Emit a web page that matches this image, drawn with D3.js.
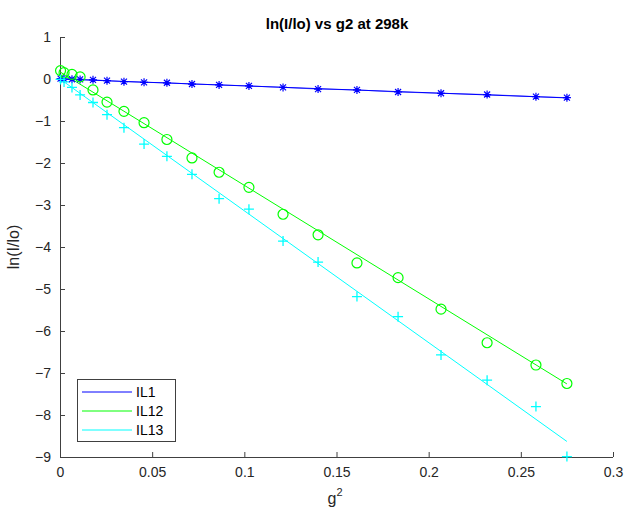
<!DOCTYPE html>
<html lang="en">
<head>
  <meta charset="utf-8">
  <title>ln(I/lo) vs g2 at 298k</title>
  <style>
    body { margin: 0; background: #fff; }
    svg { display: block; font-family: "Liberation Sans", Arial, sans-serif; }
  </style>
  <script src="https://d3js.org/d3.v7.min.js"></script>
</head>
<body>
  <div id="chart"></div>
  <script>
    // g^2 values (shared by all three series)
    const g2 = [0.0003, 0.0022, 0.0065, 0.0109, 0.0179, 0.0255, 0.0347, 0.0456, 0.0580, 0.0716,
                0.0863, 0.1025, 0.1210, 0.1400, 0.1611, 0.1834, 0.2067, 0.2317, 0.2582, 0.2750];

    // ln(I/Io) measured points
    const il1 = [0.01, 0.0, -0.005, -0.01, -0.02, -0.04, -0.064, -0.08, -0.09, -0.12,
                 -0.14, -0.165, -0.2, -0.24, -0.26, -0.31, -0.34, -0.37, -0.42, -0.445];
    const il12 = [0.2, 0.15, 0.11, 0.05, -0.26, -0.55, -0.77, -1.04, -1.44, -1.88,
                  -2.22, -2.58, -3.22, -3.71, -4.38, -4.73, -5.48, -6.28, -6.81, -7.25];
    const il13 = [-0.01, -0.07, -0.2, -0.38, -0.56, -0.85, -1.16, -1.55, -1.84, -2.27,
                  -2.85, -3.1, -3.86, -4.36, -5.18, -5.66, -6.57, -7.17, -7.8, -8.99];

    // fitted lines, [g2, ln] end points
    const fit1 = [[0, 0.0], [0.275, -0.45]];
    const fit12 = [[0, 0.17], [0.275, -7.26]];
    const fit13 = [[0, 0.0], [0.275, -8.63]];

    const names = ["IL1", "IL12", "IL13"];
    const colors = ["#0000ff", "#00ff00", "#00ffff"];
    const xTicks = [0, 0.05, 0.1, 0.15, 0.2, 0.25, 0.3];
    const yTicks = [1, 0, -1, -2, -3, -4, -5, -6, -7, -8, -9];

    const width = 625, height = 512;
    const mLeft = 60, mRight = 613, mTop = 37, mBottom = 457;
    const axisColor = "#404040";

    const svg = d3.select("#chart").append("svg")
      .attr("width", width)
      .attr("height", height);

    const x = d3.scaleLinear().domain([0, 0.3]).range([mLeft, mRight]);
    const y = d3.scaleLinear().domain([-9, 1]).range([mBottom, mTop]);

    // axes (box off, ticks inward)
    const xAxis = svg.append("g")
      .attr("transform", "translate(0," + mBottom + ")")
      .call(d3.axisBottom(x).tickValues(xTicks).tickSize(-5).tickPadding(10)
        .tickFormat(d3.format("~g")));
    const yAxis = svg.append("g")
      .attr("transform", "translate(" + mLeft + ",0)")
      .call(d3.axisLeft(y).tickValues(yTicks).tickSize(-5).tickPadding(9)
        .tickFormat(d3.format("d")));

    [xAxis, yAxis].forEach(function (a) {
      a.select(".domain").attr("stroke", axisColor);
      a.selectAll(".tick line").attr("stroke", axisColor);
      a.selectAll(".tick text").attr("fill", "#262626").attr("font-size", 14)
        .attr("font-family", "Liberation Sans, Arial, sans-serif");
    });
    // plain axis lines without end caps
    xAxis.select(".domain").attr("d", "M" + mLeft + ",0.5H" + mRight);
    yAxis.select(".domain").attr("d", "M0.5," + mBottom + "V" + mTop);

    const line = d3.line().x(d => x(d[0])).y(d => y(d[1]));

    // fit lines
    [fit1, fit12, fit13].forEach(function (f, i) {
      svg.append("path")
        .attr("d", line(f))
        .attr("fill", "none")
        .attr("stroke", colors[i])
        .attr("stroke-width", 1);
    });

    // IL1 also drawn through its points
    svg.append("path")
      .attr("d", line(g2.map((v, i) => [v, il1[i]])))
      .attr("fill", "none")
      .attr("stroke", colors[0])
      .attr("stroke-opacity", 0.6)
      .attr("stroke-width", 1);

    // IL1 markers: asterisks
    const s = 4;
    g2.forEach(function (v, i) {
      const cx = x(v), cy = y(il1[i]);
      svg.append("path")
        .attr("d", "M" + (cx - s) + "," + cy + "H" + (cx + s) +
          "M" + cx + "," + (cy - s) + "V" + (cy + s) +
          "M" + (cx - s * 0.75) + "," + (cy - s * 0.75) + "L" + (cx + s * 0.75) + "," + (cy + s * 0.75) +
          "M" + (cx - s * 0.75) + "," + (cy + s * 0.75) + "L" + (cx + s * 0.75) + "," + (cy - s * 0.75))
        .attr("stroke", colors[0])
        .attr("stroke-width", 1.2)
        .attr("fill", "none");
    });

    // IL12 markers: circles
    svg.append("g").selectAll("circle")
      .data(g2.map((v, i) => [v, il12[i]]))
      .enter().append("circle")
      .attr("cx", d => x(d[0]))
      .attr("cy", d => y(d[1]))
      .attr("r", 5)
      .attr("fill", "none")
      .attr("stroke", colors[1])
      .attr("stroke-width", 1.2);

    // IL13 markers: plus signs
    g2.forEach(function (v, i) {
      const cx = x(v), cy = y(il13[i]);
      svg.append("path")
        .attr("d", "M" + (cx - 5) + "," + cy + "H" + (cx + 5) + "M" + cx + "," + (cy - 5) + "V" + (cy + 5))
        .attr("stroke", colors[2])
        .attr("stroke-width", 1.3)
        .attr("fill", "none");
    });

    // title and labels
    svg.append("text")
      .attr("x", 337).attr("y", 29)
      .attr("text-anchor", "middle")
      .attr("font-weight", "bold")
      .attr("font-size", 15)
      .attr("fill", "#000")
      .text("ln(I/lo) vs g2 at 298k");

    const xl = svg.append("text")
      .attr("x", 335).attr("y", 504)
      .attr("text-anchor", "middle")
      .attr("font-size", 16)
      .attr("fill", "#262626");
    xl.append("tspan").text("g");
    xl.append("tspan").attr("font-size", 11).attr("dy", -8).text("2");

    svg.append("text")
      .attr("transform", "translate(19,247) rotate(-90)")
      .attr("text-anchor", "middle")
      .attr("font-size", 16)
      .attr("fill", "#262626")
      .text("ln(I/lo)");

    // legend
    const lg = svg.append("g").attr("transform", "translate(77,379)");
    lg.append("rect")
      .attr("x", 0.5).attr("y", 0.5)
      .attr("width", 98).attr("height", 62)
      .attr("fill", "#fff")
      .attr("stroke", "#404040");
    names.forEach(function (n, i) {
      const ly = 13 + i * 19;
      lg.append("line")
        .attr("x1", 5).attr("x2", 55)
        .attr("y1", ly).attr("y2", ly)
        .attr("stroke", colors[i]);
      lg.append("text")
        .attr("x", 59).attr("y", ly + 5)
        .attr("font-size", 14)
        .attr("fill", "#000")
        .text(n);
    });
  </script>
</body>
</html>
